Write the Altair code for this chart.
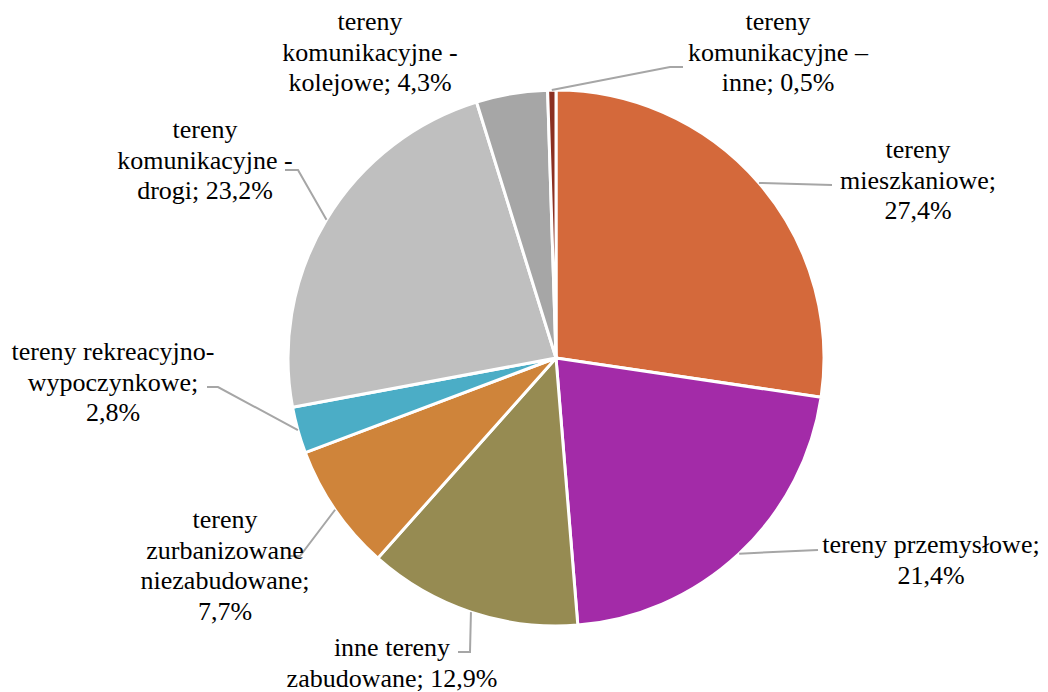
import altair as alt
import pandas as pd
import numpy as np

# ---- data ----
categories = [
    "tereny mieszkaniowe",
    "tereny przemysłowe",
    "inne tereny zabudowane",
    "tereny zurbanizowane niezabudowane",
    "tereny rekreacyjno-wypoczynkowe",
    "tereny komunikacyjne - drogi",
    "tereny komunikacyjne - kolejowe",
    "tereny komunikacyjne – inne",
]
values = [27.4, 21.4, 12.9, 7.7, 2.8, 23.2, 4.3, 0.5]
labels = [
    "tereny\nmieszkaniowe;\n27,4%",
    "tereny przemysłowe;\n21,4%",
    "inne tereny\nzabudowane; 12,9%",
    "tereny\nzurbanizowane\nniezabudowane;\n7,7%",
    "tereny rekreacyjno-\nwypoczynkowe;\n2,8%",
    "tereny\nkomunikacyjne -\ndrogi; 23,2%",
    "tereny\nkomunikacyjne -\nkolejowe; 4,3%",
    "tereny\nkomunikacyjne –\ninne; 0,5%",
]
colors = ["#D4693B", "#A32BA8", "#968B52", "#CF843A",
          "#4BADC6", "#BFBFBF", "#A6A6A6", "#8B3022"]

# ---- layout (pixel positions, chart coordinates; first text line) ----
W, H = 1032, 684
CX, CY, R = 548, 350, 268
label_pos = [(910, 142), (923, 537), (384, 640), (217, 512),
             (105, 344), (197, 122), (362, 14), (770, 14)]
elbows = [
    [(824, 177)],
    [(810, 542)],
    [(462, 644), (450, 644)],
    [(292, 548), (282, 548)],
    [(210, 379), (199, 379)],
    [(290, 162), (277, 162)],
    [],
    [(662, 59), (675, 59)],
]

df = pd.DataFrame({"cat": categories, "val": values,
                   "idx": list(range(len(values))), "label": labels})
df["lx"] = [p[0] for p in label_pos]
df["ly"] = [p[1] for p in label_pos]

vals = np.array(values)
mid = (np.cumsum(vals) - vals / 2) / vals.sum() * 2 * np.pi
rows = []
for i, c in enumerate(categories):
    if not elbows[i]:
        continue
    pts = [(CX + R * np.sin(mid[i]), CY - R * np.cos(mid[i]))] + elbows[i]
    for k, (x, y) in enumerate(pts):
        rows.append({"cat": c, "k": k, "x": x, "y": y})
lines_df = pd.DataFrame(rows)

xs = alt.Scale(domain=[0, W], range=[0, W], zero=False, nice=False)
ys = alt.Scale(domain=[0, H], range=[0, H], zero=False, nice=False)

pie = alt.Chart(df).mark_arc(radius=R, stroke="white", strokeWidth=3).encode(
    theta=alt.Theta("val:Q", stack=True),
    order=alt.Order("idx:Q"),
    color=alt.Color("cat:N", scale=alt.Scale(domain=categories, range=colors), legend=None),
    x=alt.value(CX),
    y=alt.value(CY),
)

leaders = alt.Chart(lines_df).mark_line(color="#A6A6A6", strokeWidth=2).encode(
    x=alt.X("x:Q", scale=xs, axis=None),
    y=alt.Y("y:Q", scale=ys, axis=None),
    detail="cat:N",
    order="k:Q",
)

text = alt.Chart(df).mark_text(
    font="Liberation Serif", fontSize=26, lineBreak="\n",
    lineHeight=30.7, align="center", baseline="middle", color="black",
).encode(
    x=alt.X("lx:Q", scale=xs, axis=None),
    y=alt.Y("ly:Q", scale=ys, axis=None),
    text="label:N",
)

chart = alt.layer(pie, leaders, text).properties(
    width=W, height=H, autosize=alt.AutoSizeParams(type="none"), padding=0,
    background="white",
).configure_view(stroke=None)

chart.save("out.html", embed_options={"renderer": "svg", "actions": False})
